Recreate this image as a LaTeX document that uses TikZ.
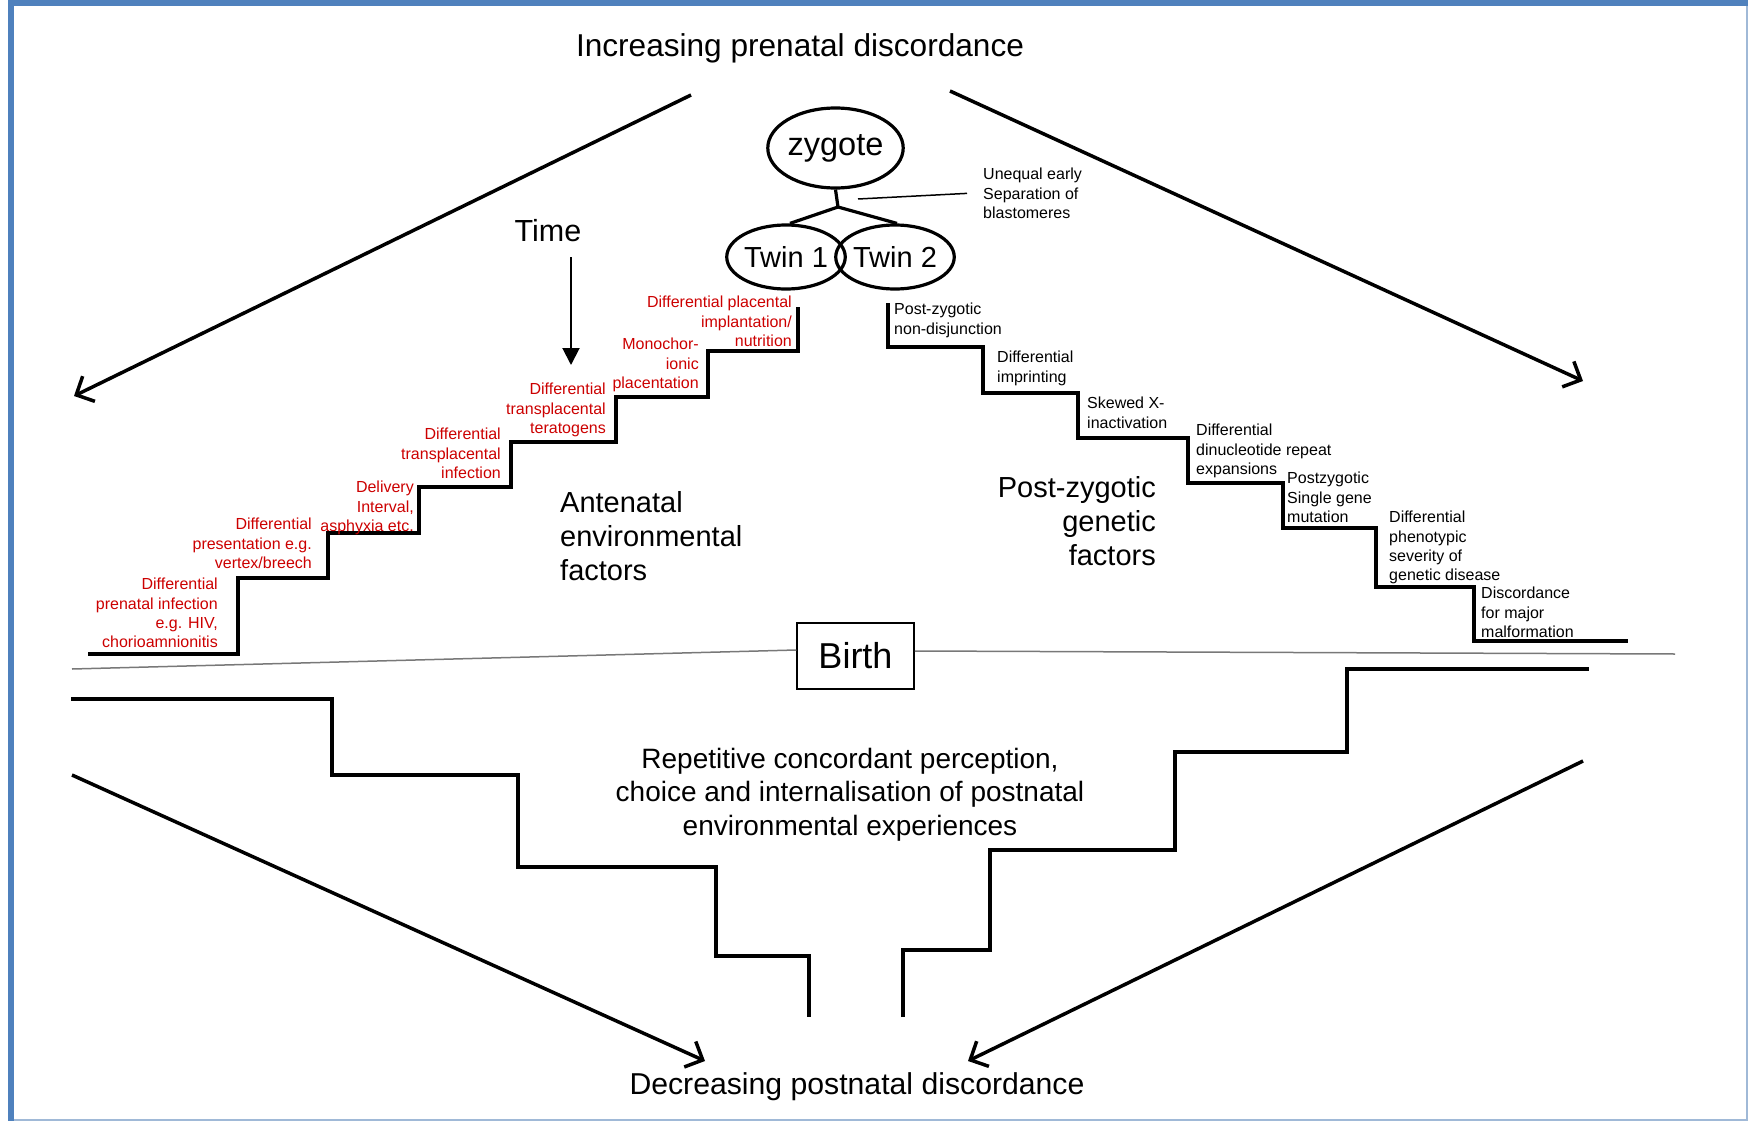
\documentclass[tikz,border=0pt]{standalone}
\usepackage{fontspec}
\setmainfont{Liberation Sans}
\usetikzlibrary{arrows.meta, shapes.geometric}

\definecolor{framebl}{RGB}{79,129,189}
\definecolor{framelt}{RGB}{160,185,215}
\definecolor{factred}{RGB}{204,0,0}
\definecolor{birthgr}{RGB}{120,120,120}

\tikzset{
  sm/.style={font=\fontsize{16}{19.3}\selectfont, inner sep=0pt},
  redfact/.style={sm, text=factred, align=right, anchor=north east},
  genfact/.style={sm, align=left, anchor=north west},
  big/.style={font=\fontsize{29}{34}\selectfont, inner sep=0pt},
  stair/.style={line width=4pt, line join=miter},
  bigarrow/.style={line width=3.5pt, -{Straight Barb[length=14pt, width=28pt, line width=3.5pt]}},
  egg/.style={draw, ellipse, line width=3.2pt, inner sep=0pt}
}

\begin{document}
\begin{tikzpicture}[x=1pt, y=-1pt]
  \useasboundingbox (0,0) rectangle (1748,1121);
  % frame
  \draw[framelt, line width=2pt] (11,1120) -- (1747,1120) -- (1747,3);
  \draw[framebl, line width=6pt] (11,1121) -- (11,3) -- (1748,3);

  % titles
  \node[font=\fontsize{31.6}{36}\selectfont, inner sep=0pt] (title) at (800,48) {Increasing prenatal discordance};
  \node[font=\fontsize{30.2}{36}\selectfont, inner sep=0pt] (decr) at (857,1087) {Decreasing postnatal discordance};

  % big arrows
  \coordinate (tlA) at (691,95);  \coordinate (tlB) at (74,396);
  \coordinate (trA) at (950,91);  \coordinate (trB) at (1583,381);
  \coordinate (blA) at (72,775);  \coordinate (blB) at (705,1061);
  \coordinate (brA) at (1583,761); \coordinate (brB) at (968,1061);
  \draw[bigarrow] (tlA) -- (tlB);
  \draw[bigarrow] (trA) -- (trB);
  \draw[bigarrow] (blA) -- (blB);
  \draw[bigarrow] (brA) -- (brB);

  % zygote and twins
  \node[egg, minimum width=125pt, minimum height=80pt, font=\fontsize{32.5}{36}\selectfont] (zyg) at (835.5,148) {zygote};
  \node[egg, minimum width=105pt, minimum height=64pt, font=\fontsize{29}{32}\selectfont] (twinA) at (786,257) {Twin 1};
  \node[egg, minimum width=106pt, minimum height=64pt, font=\fontsize{29}{32}\selectfont] (twinB) at (895,257) {Twin 2};
  \coordinate (split) at (838,207);
  \draw[line width=3.2pt] (zyg.south) -- (split);
  \draw[line width=3.2pt] (split) -- ([xshift=4pt]twinA.north);
  \draw[line width=3.2pt] (split) -- ([xshift=2pt]twinB.north);
  \node[genfact] (blast) at (983,168) {Unequal early\\Separation of\\blastomeres};
  \coordinate (sepL) at (858,199);
  \draw[line width=1.5pt] (sepL) -- ([xshift=-16pt]blast.west);

  % time
  \node[font=\fontsize{30.5}{36}\selectfont, inner sep=0pt] (ttime) at (548,231) {Time};
  \coordinate (tEnd) at (571,365);
  \draw[line width=2pt, -{Triangle[length=17pt, width=17pt]}] ([yshift=-15pt]ttime.south -| tEnd) -- (tEnd);

  % antenatal staircase
  \draw[stair] (88,654) -- (238,654) -- (238,578) -- (328,578) -- (328,533)
    -- (419,533) -- (419,487) -- (511,487) -- (511,442) -- (616,442)
    -- (616,397) -- (708,397) -- (708,351) -- (798,351) -- (798,307);
  \node[redfact] (ra) at (218,578) {Differential\\prenatal infection\\e.g. HIV,\\chorioamnionitis};
  \node[redfact] (rb) at (312,518) {Differential\\presentation e.g.\\vertex/breech};
  \node[redfact] (rc) at (414,481) {Delivery\\Interval,\\asphyxia etc.};
  \node[redfact] (rd) at (501,428) {Differential\\transplacental\\infection};
  \node[redfact] (re) at (606,383) {Differential\\transplacental\\teratogens};
  \node[redfact] (rf) at (699,338) {Monochor-\\ionic\\placentation};
  \node[redfact] (rg) at (792,296) {Differential placental\\implantation/\\nutrition};
  \node[big, align=left, anchor=north west] (antenat) at (560,491) {Antenatal\\environmental\\factors};

  % post-zygotic staircase
  \draw[stair] (888,303) -- (888,347) -- (983,347) -- (983,393) -- (1078,393)
    -- (1078,438) -- (1188,438) -- (1188,483) -- (1283,483) -- (1283,528)
    -- (1376,528) -- (1376,587) -- (1474,587) -- (1474,641) -- (1628,641);
  \node[genfact] (ga) at (894,303) {Post-zygotic\\non-disjunction};
  \node[genfact] (gb) at (997,351) {Differential\\imprinting};
  \node[genfact] (gc) at (1087,397) {Skewed X-\\inactivation};
  \node[genfact] (gd) at (1196,424) {Differential\\dinucleotide repeat\\expansions};
  \node[genfact] (ge) at (1287,472) {Postzygotic\\Single gene\\mutation};
  \node[genfact] (gf) at (1389,511) {Differential\\phenotypic\\severity of\\genetic disease};
  \node[genfact] (gg) at (1481,587) {Discordance\\for major\\malformation};
  \node[big, align=right, anchor=north east] (postzyg) at (1156,476) {Post-zygotic\\genetic\\factors};

  % birth
  \node[draw, line width=1.5pt, minimum width=117pt, minimum height=66pt, font=\fontsize{36}{40}\selectfont] (birth) at (855.5,656) {Birth};
  \coordinate (bL) at (72,669);
  \coordinate (bR) at (1675,654);
  \draw[birthgr, line width=1.5pt] (bL) -- ([yshift=6pt]birth.west);
  \draw[birthgr, line width=1.5pt] ([yshift=5pt]birth.east) -- (bR);

  % postnatal staircases
  \draw[stair] (71,699) -- (332,699) -- (332,775) -- (518,775) -- (518,867)
    -- (716,867) -- (716,956) -- (809,956) -- (809,1017);
  \draw[stair] (903,1017) -- (903,950) -- (990,950) -- (990,850) -- (1175,850)
    -- (1175,752) -- (1347,752) -- (1347,669) -- (1589,669);
  \node[font=\fontsize{28}{33.5}\selectfont, inner sep=0pt, align=center, anchor=north] (repet) at (850,748)
    {Repetitive concordant perception,\\choice and internalisation of postnatal\\environmental experiences};
\end{tikzpicture}
\end{document}
